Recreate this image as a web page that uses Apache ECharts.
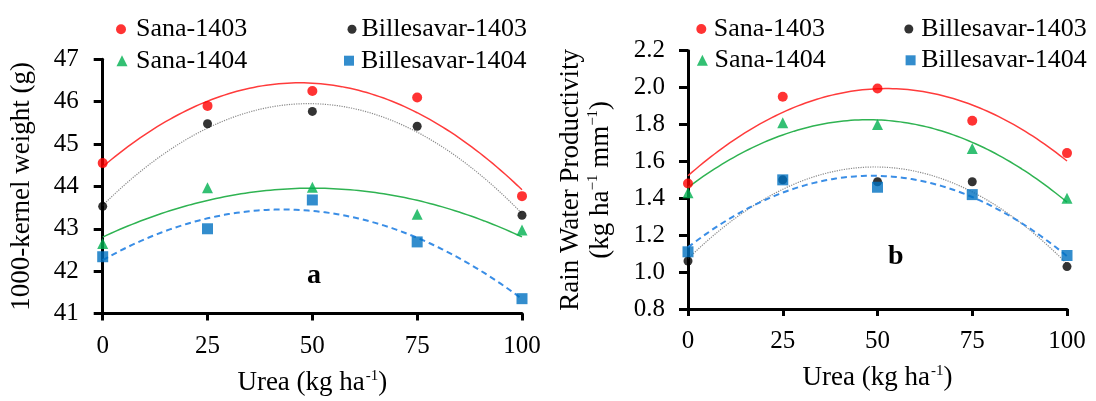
<!DOCTYPE html>
<html>
<head>
<meta charset="utf-8">
<script src="https://cdn.jsdelivr.net/npm/echarts@6/dist/echarts.min.js"></script>
<style>
html,body{margin:0;padding:0;background:#fff;}
#chart{width:1096px;height:401px;}
</style>
</head>
<body>
<div id="chart"></div>
<script>
// ---------------- data ----------------
const urea = [0, 25, 50, 75, 100];
const seriesNames = ['Sana-1403', 'Billesavar-1403', 'Sana-1404', 'Billesavar-1404'];

// panel a: 1000-kernel weight (g)
const kwSana1403 = [44.55, 45.90, 46.25, 46.10, 43.77];
const kwBil1403  = [43.53, 45.48, 45.77, 45.42, 43.32];
const kwSana1404 = [42.65, 43.97, 43.98, 43.34, 42.97];
const kwBil1404  = [42.34, 43.00, 43.68, 42.69, 41.35];

// panel b: Rain water productivity (kg ha-1 mm-1)
const rwpSana1403 = [1.48, 1.95, 1.995, 1.82, 1.645];
const rwpBil1403  = [1.06, 1.50, 1.49, 1.49, 1.03];
const rwpSana1404 = [1.43, 1.81, 1.80, 1.67, 1.40];
const rwpBil1404  = [1.11, 1.50, 1.46, 1.42, 1.09];

const kwAxis = {min: 41, max: 47, interval: 1};
const rwpAxis = {min: 0.8, max: 2.2, interval: 0.2};
const ureaAxis = {min: 0, max: 100, interval: 25};

// ---------------- helpers ----------------
const FONT = "'Liberation Serif', 'Times New Roman', serif";
const symbols = ['circle', 'circle', 'triangle', 'rect'];
const symSizes = [10, 9, 11, 11];
const markColors = ['#ff0000', '#000000', '#00b050', '#0070c0'];
const fitStyles = [
  {color: '#ff3b3b', width: 1.5, type: 'solid'},
  {color: '#8a8a8a', width: 1.2, type: 'dotted'},
  {color: '#2fb352', width: 1.5, type: 'solid'},
  {color: '#3a8ee6', width: 2, type: [6, 4]}
];

// least-squares quadratic trendline (as in the source's polynomial trendlines)
function quadFit(xs, ys) {
  let n = xs.length, s = [0,0,0,0,0], t = [0,0,0];
  for (let i = 0; i < n; i++) {
    let p = 1;
    for (let k = 0; k < 5; k++) { s[k] += p; if (k < 3) t[k] += p * ys[i]; p *= xs[i]; }
  }
  const A = [[s[0], s[1], s[2], t[0]], [s[1], s[2], s[3], t[1]], [s[2], s[3], s[4], t[2]]];
  for (let i = 0; i < 3; i++) {
    for (let j = i + 1; j < 3; j++) {
      const f = A[j][i] / A[i][i];
      for (let k = i; k < 4; k++) A[j][k] -= f * A[i][k];
    }
  }
  const c = [0,0,0];
  for (let i = 2; i >= 0; i--) {
    let v = A[i][3];
    for (let k = i + 1; k < 3; k++) v -= A[i][k] * c[k];
    c[i] = v / A[i][i];
  }
  return x => c[0] + c[1] * x + c[2] * x * x;
}
function fitLine(xs, ys) {
  const f = quadFit(xs, ys), out = [];
  for (let x = xs[0]; x <= xs[xs.length - 1]; x += 1) out.push([x, f(x)]);
  return out;
}

function panelSeries(dataSets, gi) {
  const res = [];
  dataSets.forEach((ys, i) => {
    res.push({
      type: 'line', name: seriesNames[i] + ' trend', xAxisIndex: gi, yAxisIndex: gi,
      data: fitLine(urea, ys), showSymbol: false, symbol: 'none', silent: true,
      lineStyle: fitStyles[i], z: 2
    });
  });
  dataSets.forEach((ys, i) => {
    res.push({
      type: 'scatter', name: seriesNames[i], xAxisIndex: gi, yAxisIndex: gi,
      data: urea.map((x, j) => [x, ys[j]]), symbol: symbols[i], symbolSize: symSizes[i],
      itemStyle: {color: markColors[i]}, z: 3 + i
    });
  });
  return res;
}

const textBase = {fontFamily: FONT, color: '#000'};
function legendItem(name, icon, left, top, size, padLeft) {
  return {
    data: [{name: name, icon: icon}], left: left, top: top, itemWidth: size, itemHeight: size,
    padding: 0, itemGap: 0, selectedMode: false,
    textStyle: Object.assign({fontSize: 26, lineHeight: 26, padding: [0, 0, 0, padLeft]}, textBase)
  };
}

function xAxisFor(gi) {
  return {
    type: 'value', gridIndex: gi, min: ureaAxis.min, max: ureaAxis.max, interval: ureaAxis.interval,
    axisLine: {show: true, onZero: false, lineStyle: {color: '#000', width: 3}},
    axisTick: {show: true, inside: false, length: 7, lineStyle: {color: '#000', width: 3}},
    splitLine: {show: false},
    axisLabel: Object.assign({fontSize: 25, margin: 20}, textBase),
    name: '{t|Urea (kg ha}{s|-1}{t|)}', nameLocation: 'middle', nameGap: 55,
    nameTextStyle: {rich: {
      t: Object.assign({fontSize: 27, lineHeight: 28}, textBase),
      s: Object.assign({fontSize: 15, lineHeight: 28, verticalAlign: 'top', padding: [0, 0, 0, 1]}, textBase)
    }}
  };
}
function yAxisFor(gi, ax, extra) {
  return Object.assign({
    type: 'value', gridIndex: gi, min: ax.min, max: ax.max, interval: ax.interval,
    axisLine: {show: true, lineStyle: {color: '#000', width: 3}},
    axisTick: {show: true, inside: false, length: 9, lineStyle: {color: '#000', width: 3}},
    splitLine: {show: false},
    nameLocation: 'middle', nameRotate: 90
  }, extra);
}

const option = {
  backgroundColor: '#fff',
  animation: false,
  grid: [
    {left: 102.7, top: 59.3, width: 419.3, height: 259.4, containLabel: false},
    {left: 688, top: 50.7, width: 379, height: 258.3, containLabel: false}
  ],
  xAxis: [xAxisFor(0), xAxisFor(1)],
  yAxis: [
    yAxisFor(0, kwAxis, {
      axisLabel: Object.assign({fontSize: 25, margin: 24}, textBase),
      name: '1000-kernel weight (g)', nameGap: 67,
      nameTextStyle: Object.assign({fontSize: 27}, textBase)
    }),
    yAxisFor(1, rwpAxis, {
      axisLabel: Object.assign({fontSize: 25, margin: 23, formatter: v => v.toFixed(1)}, textBase),
      name: '{t|Rain Water Productivity}\n{t|(kg ha}{s|\u22121}{t| mm}{s|\u22121}{t|)}',
      nameGap: 72,
      nameTextStyle: {rich: {
        t: Object.assign({fontSize: 27, lineHeight: 30}, textBase),
        s: Object.assign({fontSize: 15, lineHeight: 30, verticalAlign: 'top'}, textBase)
      }}
    })
  ],
  legend: [
    legendItem('Sana-1403', 'circle', 116, 16.3, 10, 5),
    legendItem('Billesavar-1403', 'circle', 347.5, 16.3, 9, 0),
    legendItem('Sana-1404', 'triangle', 116.5, 47.7, 11, 3.5),
    legendItem('Billesavar-1404', 'rect', 344, 47.7, 10, 2),
    legendItem('Sana-1403', 'circle', 696.3, 16, 10, 2.5),
    legendItem('Billesavar-1403', 'circle', 904.3, 16, 9, 3),
    legendItem('Sana-1404', 'triangle', 696.9, 47.3, 11, 1.6),
    legendItem('Billesavar-1404', 'rect', 905.6, 47.3, 10, 0.6)
  ],
  graphic: [
    {type: 'text', left: 307, top: 262, style: {text: 'a', font: "bold 28px 'Liberation Serif'", fill: '#000'}},
    {type: 'text', left: 888, top: 243, style: {text: 'b', font: "bold 28px 'Liberation Serif'", fill: '#000'}}
  ],
  series: [].concat(
    panelSeries([kwSana1403, kwBil1403, kwSana1404, kwBil1404], 0),
    panelSeries([rwpSana1403, rwpBil1403, rwpSana1404, rwpBil1404], 1)
  )
};

const chart = echarts.init(document.getElementById('chart'), null, {renderer: 'canvas'});
chart.setOption(option);
</script>
</body>
</html>
